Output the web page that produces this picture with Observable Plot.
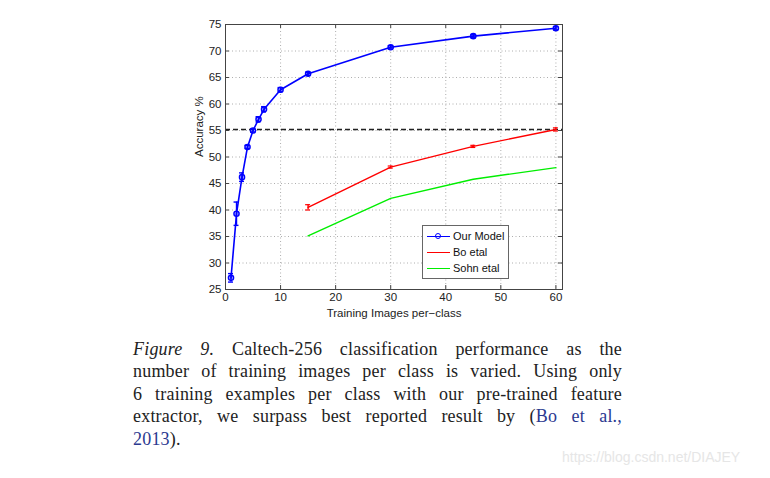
<!DOCTYPE html>
<html>
<head>
<meta charset="utf-8">
<script src="https://cdn.jsdelivr.net/npm/d3@7"></script>
<script src="https://cdn.jsdelivr.net/npm/@observablehq/plot@0.6"></script>
<style>
  html, body { margin: 0; padding: 0; background: #fff; }
  #wrap { position: relative; width: 770px; height: 478px; overflow: hidden; }
  #chart svg { display: block; }
  #legend { position: absolute; left: 422px; top: 225px; width: 87px; height: 54px;
    border: 1px solid #666; background: #fff; font: 11px "Liberation Sans", Arial, sans-serif; color: #111; box-sizing: border-box; }
  .lg { position: absolute; left: 4px; height: 14px; display: flex; align-items: center; }
  .lg .ln { width: 23px; height: 0; border-top: 1.5px solid; margin-right: 3px; position: relative; }
  .lg .mk { position: absolute; left: 8px; top: -3.5px; width: 4px; height: 4px; border: 1px solid #00f; border-radius: 50%; }
  #caption { position: absolute; left: 133px; top: 338px; width: 489px;
    font: 18px "Liberation Serif", "DejaVu Serif", serif; letter-spacing: 0.2px; color: #222; line-height: 22.4px; }
  #caption .l { text-align: justify; text-align-last: justify; white-space: nowrap; }
  #caption .last { text-align-last: left; }
  #caption .cite { color: #2b3990; }
  #wm { position: absolute; left: 562px; top: 449px; font: 14px "Liberation Sans", Arial, sans-serif; color: #e6e6e6; }
</style>
</head>
<body>
<div id="wrap">
  <div id="chart"></div>
  <div id="legend">
    <div class="lg" style="top:3px"><span class="ln" style="border-color:#0000ff"><span class="mk"></span></span><span>Our Model</span></div>
    <div class="lg" style="top:19px"><span class="ln" style="border-color:#ff0000"></span><span>Bo etal</span></div>
    <div class="lg" style="top:35px"><span class="ln" style="border-color:#00ee00"></span><span>Sohn etal</span></div>
  </div>
  <div id="caption">
    <div class="l"><i>Figure 9.</i> Caltech-256 classification performance as the</div>
    <div class="l">number of training images per class is varied. Using only</div>
    <div class="l">6 training examples per class with our pre-trained feature</div>
    <div class="l">extractor, we surpass best reported result by (<span class="cite">Bo et al.,</span></div>
    <div class="l last"><span class="cite">2013</span>).</div>
  </div>
  <div id="wm">https://blog.csdn.net/DIAJEY</div>
</div>
<script>
// ---- data ----
const ourX = [1, 2, 3, 4, 5, 6, 7, 10, 15, 30, 45, 60];
const ourY = [27.2, 39.3, 46.2, 51.9, 55.0, 57.1, 59.0, 62.7, 65.7, 70.7, 72.8, 74.3];
const ourErr = [0.8, 2.2, 0.8, 0.3, 0.3, 0.5, 0.5, 0.4, 0.3, 0.3, 0.3, 0.3];
const boX = [15, 30, 45, 60];
const boY = [40.5, 48.1, 52.0, 55.2];
const boErr = [0.5, 0.2, 0.2, 0.3];
const sohnX = [15, 30, 45, 60];
const sohnY = [35.1, 42.2, 45.8, 48.0];
const baseline = 55.2;
const xTicks = [0, 10, 20, 30, 40, 50, 60];
const yTicks = [25, 30, 35, 40, 45, 50, 55, 60, 65, 70, 75];
const xDomain = [0, 61.2];
const yDomain = [25, 75];

const our = ourX.map((x, i) => ({x, y: ourY[i], e: ourErr[i]}));
const bo = boX.map((x, i) => ({x, y: boY[i], e: boErr[i]}));
const sohn = sohnX.map((x, i) => ({x, y: sohnY[i]}));

const tickLenY = 0.75; // data units in y for x ticks (~4px)
const tickLenX = 0.72; // data units in x for y ticks (~4px)
const capW = 0.45;

const font = '"Liberation Sans", Arial, sans-serif';

const chart = Plot.plot({
  width: 770,
  height: 326,
  marginLeft: 225,
  marginRight: 208,
  marginTop: 24,
  marginBottom: 37,
  style: {fontFamily: font, fontSize: "11px", color: "#222", background: "#fff"},
  x: {domain: xDomain, ticks: xTicks},
  y: {domain: yDomain, ticks: yTicks},
  marks: [
    // grid
    Plot.ruleX(xTicks.filter(t => t > 0 && t < 61), {stroke: "#999", strokeWidth: 0.8, strokeDasharray: "1,2.5"}),
    Plot.ruleY(yTicks.filter(t => t > 25 && t < 75), {stroke: "#999", strokeWidth: 0.8, strokeDasharray: "1,2.5"}),
    // inward ticks on all four sides
    Plot.ruleX(xTicks, {y1: yDomain[0], y2: yDomain[0] + tickLenY, stroke: "#444"}),
    Plot.ruleX(xTicks, {y1: yDomain[1], y2: yDomain[1] - tickLenY, stroke: "#444"}),
    Plot.ruleY(yTicks, {x1: xDomain[0], x2: xDomain[0] + tickLenX, stroke: "#444"}),
    Plot.ruleY(yTicks, {x1: xDomain[1], x2: xDomain[1] - tickLenX, stroke: "#444"}),
    Plot.axisX({ticks: xTicks, tickSize: 0, tickPadding: 3, label: null, fontSize: 11.5}),
    Plot.axisY({ticks: yTicks, tickSize: 0, tickPadding: 4, label: null, fontSize: 11.5}),
    // baseline dashed
    Plot.ruleY([baseline], {stroke: "#222", strokeWidth: 1.4, strokeDasharray: "5,3"}),
    // Sohn
    Plot.line(sohn, {x: "x", y: "y", stroke: "#00ee00", strokeWidth: 1.4}),
    // Bo
    Plot.line(bo, {x: "x", y: "y", stroke: "#ff0000", strokeWidth: 1.4}),
    Plot.ruleX(bo, {x: "x", y1: d => d.y - d.e, y2: d => d.y + d.e, stroke: "#ff0000", strokeWidth: 1.4}),
    Plot.ruleY(bo, {y: d => d.y - d.e, x1: d => d.x - capW, x2: d => d.x + capW, stroke: "#ff0000", strokeWidth: 1.2}),
    Plot.ruleY(bo, {y: d => d.y + d.e, x1: d => d.x - capW, x2: d => d.x + capW, stroke: "#ff0000", strokeWidth: 1.2}),
    // Our model
    Plot.line(our, {x: "x", y: "y", stroke: "#0000ff", strokeWidth: 1.6}),
    Plot.ruleX(our, {x: "x", y1: d => d.y - d.e, y2: d => d.y + d.e, stroke: "#0000ff", strokeWidth: 1.4}),
    Plot.ruleY(our, {y: d => d.y - d.e, x1: d => d.x - capW, x2: d => d.x + capW, stroke: "#0000ff", strokeWidth: 1.4}),
    Plot.ruleY(our, {y: d => d.y + d.e, x1: d => d.x - capW, x2: d => d.x + capW, stroke: "#0000ff", strokeWidth: 1.4}),
    Plot.dot(our, {x: "x", y: "y", r: 2.6, stroke: "#0000ff", strokeWidth: 1.4, fill: "#0000ff", fillOpacity: 0.3}),
    // frame
    Plot.frame({stroke: "#444", strokeWidth: 1}),
    // axis titles
    Plot.text(["Training Images per\u2212class"], {frameAnchor: "bottom", dy: 27, fontSize: 11.5, fill: "#222"}),
    Plot.text(["Accuracy %"], {frameAnchor: "left", dx: -26, rotate: -90, fontSize: 11.5, fill: "#222"})
  ]
});
document.getElementById("chart").appendChild(chart);
</script>
</body>
</html>
